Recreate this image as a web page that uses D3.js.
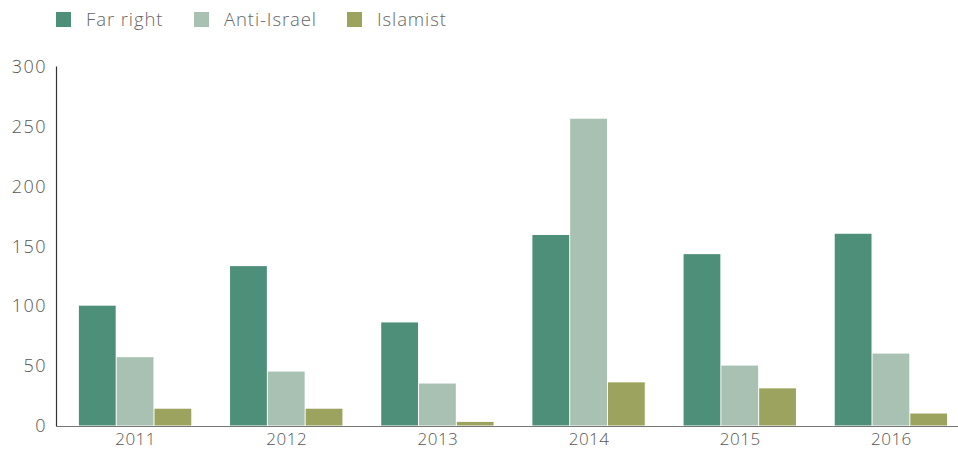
<!DOCTYPE html>
<html>
<head>
<meta charset="utf-8">
<script src="https://cdn.jsdelivr.net/npm/d3@7"></script>
<style>
  body { margin: 0; background: #fff; }
  text { font-family: "Open Sans", sans-serif; font-weight: 300; fill: #555; }
</style>
</head>
<body>
<div id="container"></div>
<script>
// data
var years = ['2011', '2012', '2013', '2014', '2015', '2016'];
var series = ['Far right', 'Anti-Israel', 'Islamist'];
var farRight = [100, 133, 86, 159, 143, 160];
var antiIsrael = [57, 45, 35, 256, 50, 60];
var islamist = [14, 14, 3, 36, 31, 10];
var yTicks = [0, 50, 100, 150, 200, 250, 300];

var colors = ['#4e8f79', '#a8c1b3', '#9ca35e'];
var values = [farRight, antiIsrael, islamist];

var width = 958, height = 454;

var svg = d3.select('#container')
    .append('svg')
    .attr('width', width)
    .attr('height', height);

var x = d3.scaleBand()
    .domain(years)
    .range([60, 967])
    .paddingInner(0.25)
    .paddingOuter(0.125);

var xSub = d3.scaleBand()
    .domain(series)
    .range([0, x.bandwidth()]);

var y = d3.scaleLinear()
    .domain([0, 300])
    .range([425.5, 66]);

// bars
var groups = svg.append('g')
    .selectAll('g')
    .data(years)
    .enter()
    .append('g')
    .attr('transform', function (d) { return 'translate(' + x(d) + ',0)'; });

groups.selectAll('rect')
    .data(function (d, i) {
        return series.map(function (s, j) { return { key: s, value: values[j][i], idx: j }; });
    })
    .enter()
    .append('rect')
    .attr('x', function (d) { return xSub(d.key); })
    .attr('y', function (d) { return y(d.value); })
    .attr('width', xSub.bandwidth() - 1)
    .attr('height', function (d) { return y(0) - y(d.value); })
    .style('fill', function (d) { return colors[d.idx]; });

// y axis
var yAxis = svg.append('g')
    .attr('transform', 'translate(56,0)')
    .call(d3.axisLeft(y).tickValues(yTicks).tickSize(0).tickPadding(9));
yAxis.select('.domain').attr('stroke', '#333').attr('stroke-width', 1.2);
yAxis.selectAll('text').style('font-size', '18px').style('letter-spacing', '1.5px').attr('dy', '0.35em');

// x axis
var xAxis = svg.append('g')
    .attr('transform', 'translate(0,426)')
    .call(d3.axisBottom(x).tickSize(0).tickPadding(7));
xAxis.select('.domain').attr('d', 'M56,0.5H958').attr('stroke', '#777').attr('stroke-width', 1.2);
xAxis.selectAll('text').style('font-size', '17px').style('letter-spacing', '0.5px');

// legend
var legendX = [56, 194, 347];
var legend = svg.append('g')
    .selectAll('g')
    .data(series)
    .enter()
    .append('g')
    .attr('transform', function (d, i) { return 'translate(' + legendX[i] + ',12)'; });
legend.append('rect')
    .attr('width', 15)
    .attr('height', 15)
    .style('fill', function (d, i) { return colors[i]; });
legend.append('text')
    .attr('x', 30)
    .attr('y', 7.5)
    .attr('dy', '0.35em')
    .style('font-size', '18.5px')
    .style('letter-spacing', '0.9px')
    .style('fill', '#666')
    .text(function (d) { return d; });
</script>
</body>
</html>
